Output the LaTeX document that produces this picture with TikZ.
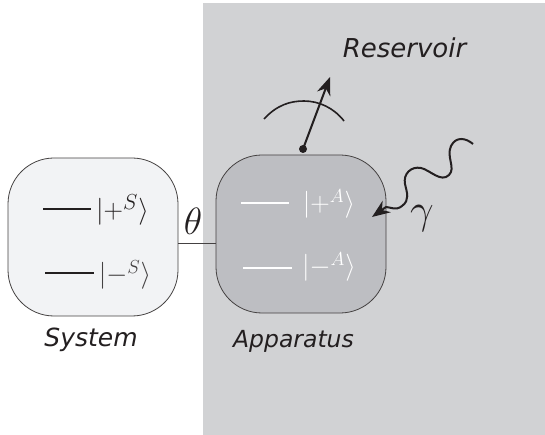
\documentclass[tikz,border=0pt]{standalone}
\usepackage{fix-cm}
\usepackage{fontspec}
\setmainfont{DejaVu Sans}
\usetikzlibrary{arrows.meta}
\definecolor{ink}{HTML}{231F20}
\definecolor{resv}{HTML}{D1D2D4}
\definecolor{sysf}{HTML}{F2F3F5}
\definecolor{appf}{HTML}{BDBEC2}
\tikzset{
  x=1pt,y=-1pt,
  roundbox/.style={draw=ink!85,line width=0.8pt,rounded corners=46pt,minimum width=170pt,minimum height=158pt,inner sep=0pt},
  level/.style={line width=2.3pt},
  ket/.style={inner sep=0pt,font=\fontsize{18}{20}\selectfont},
  oblique/.style={inner sep=0pt,text=ink},
  bigtip/.style={-{Stealth[length=18pt,width=14pt]},line width=2pt,draw=ink}
}
\begin{document}
\begin{tikzpicture}
\useasboundingbox (0,0) rectangle (545,435);
\fill[resv] (203,3) rectangle (545,435);
\node[roundbox,fill=sysf] (sys) at (93,237) {};
\node[roundbox,fill=appf] (app) at (301,234) {};
\coordinate (linkS) at (178,243);
\coordinate (linkA) at (216,243);
\draw[ink!85,line width=0.7pt] (linkS) -- (linkA);
\node[inner sep=0pt,text=ink,font=\fontsize{38}{40}\selectfont] (theta) at (193,221) {$\theta$};
\node[inner sep=0pt,text=ink,font=\fontsize{42}{44}\selectfont] (gamma) at (422,219) {$\gamma$};
% levels
\coordinate (sp1) at (43,209); \coordinate (sp2) at (91,209);
\coordinate (sm1) at (45,273); \coordinate (sm2) at (94,273);
\coordinate (ap1) at (241,203); \coordinate (ap2) at (289,203);
\coordinate (am1) at (243,268); \coordinate (am2) at (292,268);
\draw[level,ink] (sp1) -- (sp2);
\draw[level,ink] (sm1) -- (sm2);
\draw[level,white] (ap1) -- (ap2);
\draw[level,white] (am1) -- (am2);
\node[ket,text=ink,anchor=center] (kp) at (122.5,210) {\scalebox{1.5}{$\Big|{+}^{\scalebox{1.15}{$\scriptstyle S$}}\Big\rangle$}};
\node[ket,text=ink!85,anchor=center] (km) at (125,275) {\scalebox{1.5}{$\Big|{-}^{S}\Big\rangle$}};
\node[ket,text=white,anchor=center] (kap) at (329,204) {\scalebox{1.5}{$\Big|{+}^{A}\Big\rangle$}};
\node[ket,text=white,anchor=center] (kam) at (329,267) {\scalebox{1.5}{$\Big|{-}^{A}\Big\rangle$}};
% labels
\node[oblique,font=\fontsize{26}{28}\selectfont\itshape] (lr) at (404.5,48) {Reservoir};
\node[oblique,font=\fontsize{25}{27}\selectfont\itshape] (ls) at (91,340) {System};
\node[oblique,font=\fontsize{23.5}{25}\selectfont\itshape] (la) at (293.5,341) {Apparatus};
% meter
\coordinate (arcL) at (264,119);
\coordinate (arcR) at (344,121);
\draw[ink,line width=1.6pt] (arcL) .. controls (277,105) and (290,101) .. (304,101) .. controls (319,101) and (334,108) .. (arcR);
\node[circle,fill=ink,inner sep=0pt,minimum size=8pt] (pivot) at (303,149) {};
\coordinate (needle) at (330,77);
\draw[bigtip] (pivot.center) -- (needle);
% photon
\coordinate (phS) at (473,144);
\coordinate (phE) at (372,217);
\draw[bigtip] (phS) .. controls (466,138) and (456,136) .. (451,146)
  .. controls (446,157) and (456,168) .. (449,175)
  .. controls (441,183) and (430,170) .. (421,168)
  .. controls (411,166) and (403,174) .. (405,184)
  .. controls (407,193) and (410,200) .. (402,206)
  .. controls (396,211) and (390,207) .. (386,207) -- (phE);
\end{tikzpicture}
\end{document}
